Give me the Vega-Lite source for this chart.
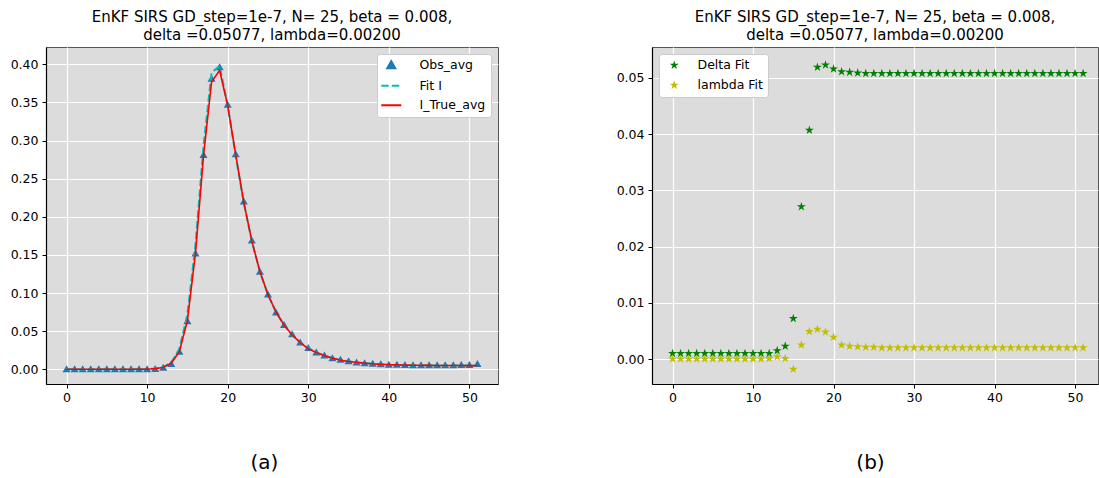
{
  "$schema": "https://vega.github.io/schema/vega-lite/v6.json",
  "padding": {"left": 9, "top": 9, "right": 0, "bottom": 0},
  "background": "white",
  "config": {
    "font": "DejaVu Sans",
    "view": {"fill": "#dcdcdc", "stroke": "#555555", "strokeWidth": 1},
    "axis": {
      "grid": true, "gridColor": "#ffffff", "gridWidth": 1.2,
      "domainColor": "#000000", "domainWidth": 1.2,
      "tickColor": "#000000", "tickSize": 4, "tickWidth": 1,
      "labelColor": "#000000", "labelFont": "DejaVu Sans", "labelFontSize": 12.5,
      "titleFont": "DejaVu Sans", "titleFontWeight": "normal", "titleColor": "#000000"
    },
    "axisX": {"labelPadding": 3},
    "axisY": {"labelPadding": 4},
    "title": {"font": "DejaVu Sans", "fontSize": 15, "fontWeight": "normal", "color": "#000000", "lineHeight": 17.5, "offset": 4.5},
    "concat": {"spacing": 116}
  },
  "datasets": {
    "left": [
      {"t": 0, "obs": 0.0, "fit": 0.0, "tru": 0.0},
      {"t": 1, "obs": 0.0, "fit": 0.0, "tru": 0.0},
      {"t": 2, "obs": 0.0, "fit": 0.0, "tru": 0.0},
      {"t": 3, "obs": 0.0, "fit": 0.0, "tru": 0.0},
      {"t": 4, "obs": 0.0, "fit": 0.0, "tru": 0.0},
      {"t": 5, "obs": 0.0, "fit": 0.0, "tru": 0.0},
      {"t": 6, "obs": 0.0, "fit": 0.0, "tru": 0.0},
      {"t": 7, "obs": 0.0, "fit": 0.0, "tru": 0.0},
      {"t": 8, "obs": 0.0, "fit": 0.0, "tru": 0.0},
      {"t": 9, "obs": 0.0, "fit": 0.0, "tru": 0.0},
      {"t": 10, "obs": 0.0, "fit": 0.0002, "tru": 0.0002},
      {"t": 11, "obs": 0.0005, "fit": 0.001, "tru": 0.0008},
      {"t": 12, "obs": 0.002, "fit": 0.003, "tru": 0.0025},
      {"t": 13, "obs": 0.007, "fit": 0.009, "tru": 0.008},
      {"t": 14, "obs": 0.023, "fit": 0.027, "tru": 0.023},
      {"t": 15, "obs": 0.063, "fit": 0.072, "tru": 0.064},
      {"t": 16, "obs": 0.152, "fit": 0.163, "tru": 0.152},
      {"t": 17, "obs": 0.281, "fit": 0.293, "tru": 0.28},
      {"t": 18, "obs": 0.381, "fit": 0.389, "tru": 0.377},
      {"t": 19, "obs": 0.396, "fit": 0.398, "tru": 0.392},
      {"t": 20, "obs": 0.347, "fit": 0.346, "tru": 0.346},
      {"t": 21, "obs": 0.282, "fit": 0.28, "tru": 0.281},
      {"t": 22, "obs": 0.22, "fit": 0.218, "tru": 0.219},
      {"t": 23, "obs": 0.169, "fit": 0.168, "tru": 0.168},
      {"t": 24, "obs": 0.128, "fit": 0.128, "tru": 0.128},
      {"t": 25, "obs": 0.098, "fit": 0.098, "tru": 0.098},
      {"t": 26, "obs": 0.0745, "fit": 0.075, "tru": 0.075},
      {"t": 27, "obs": 0.058, "fit": 0.058, "tru": 0.058},
      {"t": 28, "obs": 0.046, "fit": 0.045, "tru": 0.045},
      {"t": 29, "obs": 0.035, "fit": 0.035, "tru": 0.035},
      {"t": 30, "obs": 0.028, "fit": 0.028, "tru": 0.027},
      {"t": 31, "obs": 0.022, "fit": 0.022, "tru": 0.022},
      {"t": 32, "obs": 0.018, "fit": 0.018, "tru": 0.018},
      {"t": 33, "obs": 0.0145, "fit": 0.015, "tru": 0.0145},
      {"t": 34, "obs": 0.0125, "fit": 0.012, "tru": 0.012},
      {"t": 35, "obs": 0.0105, "fit": 0.0105, "tru": 0.0103},
      {"t": 36, "obs": 0.009, "fit": 0.009, "tru": 0.009},
      {"t": 37, "obs": 0.008, "fit": 0.008, "tru": 0.008},
      {"t": 38, "obs": 0.0072, "fit": 0.0072, "tru": 0.0071},
      {"t": 39, "obs": 0.0066, "fit": 0.0066, "tru": 0.0065},
      {"t": 40, "obs": 0.006, "fit": 0.006, "tru": 0.0061},
      {"t": 41, "obs": 0.0058, "fit": 0.0057, "tru": 0.0057},
      {"t": 42, "obs": 0.0055, "fit": 0.0055, "tru": 0.0055},
      {"t": 43, "obs": 0.0054, "fit": 0.0053, "tru": 0.0053},
      {"t": 44, "obs": 0.0053, "fit": 0.0052, "tru": 0.0052},
      {"t": 45, "obs": 0.0052, "fit": 0.0051, "tru": 0.0051},
      {"t": 46, "obs": 0.0052, "fit": 0.005, "tru": 0.005},
      {"t": 47, "obs": 0.0053, "fit": 0.005, "tru": 0.005},
      {"t": 48, "obs": 0.0054, "fit": 0.0049, "tru": 0.0049},
      {"t": 49, "obs": 0.0055, "fit": 0.0049, "tru": 0.0049},
      {"t": 50, "obs": 0.0057, "fit": 0.0048, "tru": 0.0048},
      {"t": 51, "obs": 0.0068, "fit": 0.0048, "tru": 0.0048}
    ],
    "right": [
      {"t": 0, "delta": 0.001, "lambda": 0.0},
      {"t": 1, "delta": 0.001, "lambda": 0.0},
      {"t": 2, "delta": 0.001, "lambda": 0.0},
      {"t": 3, "delta": 0.001, "lambda": 0.0},
      {"t": 4, "delta": 0.001, "lambda": 0.0},
      {"t": 5, "delta": 0.001, "lambda": 0.0},
      {"t": 6, "delta": 0.001, "lambda": 0.0},
      {"t": 7, "delta": 0.001, "lambda": 0.0},
      {"t": 8, "delta": 0.001, "lambda": 0.0},
      {"t": 9, "delta": 0.001, "lambda": 0.0},
      {"t": 10, "delta": 0.001, "lambda": 0.0},
      {"t": 11, "delta": 0.001, "lambda": 0.0},
      {"t": 12, "delta": 0.001, "lambda": 0.0001},
      {"t": 13, "delta": 0.0015, "lambda": 0.0004},
      {"t": 14, "delta": 0.0023, "lambda": 0.0001},
      {"t": 15, "delta": 0.0072, "lambda": -0.0018},
      {"t": 16, "delta": 0.0271, "lambda": 0.0025},
      {"t": 17, "delta": 0.0407, "lambda": 0.0049},
      {"t": 18, "delta": 0.0519, "lambda": 0.0053},
      {"t": 19, "delta": 0.0523, "lambda": 0.0048},
      {"t": 20, "delta": 0.0516, "lambda": 0.0039},
      {"t": 21, "delta": 0.0511, "lambda": 0.0025},
      {"t": 22, "delta": 0.051, "lambda": 0.0023},
      {"t": 23, "delta": 0.0509, "lambda": 0.0022},
      {"t": 24, "delta": 0.0508, "lambda": 0.0021},
      {"t": 25, "delta": 0.0508, "lambda": 0.0021},
      {"t": 26, "delta": 0.0508, "lambda": 0.002},
      {"t": 27, "delta": 0.0508, "lambda": 0.002},
      {"t": 28, "delta": 0.0508, "lambda": 0.002},
      {"t": 29, "delta": 0.0508, "lambda": 0.002},
      {"t": 30, "delta": 0.0508, "lambda": 0.002},
      {"t": 31, "delta": 0.0508, "lambda": 0.002},
      {"t": 32, "delta": 0.0508, "lambda": 0.002},
      {"t": 33, "delta": 0.0508, "lambda": 0.002},
      {"t": 34, "delta": 0.0508, "lambda": 0.002},
      {"t": 35, "delta": 0.0508, "lambda": 0.002},
      {"t": 36, "delta": 0.0508, "lambda": 0.002},
      {"t": 37, "delta": 0.0508, "lambda": 0.002},
      {"t": 38, "delta": 0.0508, "lambda": 0.002},
      {"t": 39, "delta": 0.0508, "lambda": 0.002},
      {"t": 40, "delta": 0.0508, "lambda": 0.002},
      {"t": 41, "delta": 0.0508, "lambda": 0.002},
      {"t": 42, "delta": 0.0508, "lambda": 0.002},
      {"t": 43, "delta": 0.0508, "lambda": 0.002},
      {"t": 44, "delta": 0.0508, "lambda": 0.002},
      {"t": 45, "delta": 0.0508, "lambda": 0.002},
      {"t": 46, "delta": 0.0508, "lambda": 0.002},
      {"t": 47, "delta": 0.0508, "lambda": 0.002},
      {"t": 48, "delta": 0.0508, "lambda": 0.002},
      {"t": 49, "delta": 0.0508, "lambda": 0.002},
      {"t": 50, "delta": 0.0508, "lambda": 0.002},
      {"t": 51, "delta": 0.0508, "lambda": 0.002}
    ]
  },
  "hconcat": [
    {
      "width": 452,
      "height": 337,
      "title": {"text": ["EnKF SIRS GD_step=1e-7, N= 25, beta = 0.008,", "delta =0.05077, lambda=0.00200"]},
      "data": {"name": "left"},
      "encoding": {
        "x": {"field": "t", "type": "quantitative",
              "scale": {"domain": [-2.55, 53.55], "nice": false, "zero": false},
              "axis": {"values": [0, 10, 20, 30, 40, 50], "title": "(a)", "titleFontSize": 20, "titleX": 218, "titleY": 78, "titleBaseline": "middle", "titleAlign": "center"}}
      },
      "layer": [
        {
          "mark": {"type": "point", "filled": true, "size": 100, "opacity": 1},
          "encoding": {
            "y": {"field": "obs", "type": "quantitative",
                  "scale": {"domain": [-0.0193, 0.4227], "nice": false, "zero": false},
                  "axis": {"values": [0, 0.05, 0.1, 0.15, 0.2, 0.25, 0.3, 0.35, 0.4], "format": ".2f", "title": null}},
            "shape": {"datum": "Obs_avg", "type": "nominal",
                      "scale": {"domain": ["Obs_avg", "Fit I", "I_True_avg"], "range": ["M0,-0.8L0.8,0.6L-0.8,0.6Z", "M-2,0L2,0", "M-2,0L2,0"]}},
            "color": {"datum": "Obs_avg", "type": "nominal",
                      "scale": {"domain": ["Obs_avg", "Fit I", "I_True_avg"], "range": ["#1f77b4", "#00bfbf", "#ff0000"]},
                      "legend": {
                        "title": null, "orient": "top-right", "offset": 7,
                        "fillColor": "#ffffff", "strokeColor": "#cccccc", "cornerRadius": 3, "padding": 5,
                        "labelFont": "DejaVu Sans", "labelFontSize": 12.5, "labelColor": "#000000",
                        "symbolSize": 100, "symbolOffset": 3, "rowPadding": 6.5, "labelOffset": 22,
                        "symbolStrokeWidth": 2, "symbolOpacity": 1
                      }}
          }
        },
        {
          "mark": {"type": "line", "strokeWidth": 2},
          "encoding": {
            "y": {"field": "fit", "type": "quantitative"},
            "color": {"datum": "Fit I", "type": "nominal"},
            "strokeDash": {"datum": "Fit I", "type": "nominal",
                           "scale": {"domain": ["Obs_avg", "Fit I", "I_True_avg"], "range": [[1, 0], [7.4, 3.2], [1, 0]]}}
          }
        },
        {
          "mark": {"type": "line", "strokeWidth": 1.6},
          "encoding": {
            "y": {"field": "tru", "type": "quantitative"},
            "color": {"datum": "I_True_avg", "type": "nominal"},
            "strokeDash": {"datum": "I_True_avg", "type": "nominal"}
          }
        }
      ]
    },
    {
      "width": 446,
      "height": 337,
      "title": {"text": ["EnKF SIRS GD_step=1e-7, N= 25, beta = 0.008,", "delta =0.05077, lambda=0.00200"]},
      "data": {"name": "right"},
      "encoding": {
        "x": {"field": "t", "type": "quantitative",
              "scale": {"domain": [-2.55, 52.85], "nice": false, "zero": false},
              "axis": {"values": [0, 10, 20, 30, 40, 50], "title": "(b)", "titleFontSize": 20, "titleX": 218, "titleY": 78, "titleBaseline": "middle", "titleAlign": "center"}}
      },
      "layer": [
        {
          "mark": {"type": "point", "shape": "M0,-1L0.223,-0.307L0.951,-0.309L0.361,0.117L0.588,0.809L0,0.38L-0.588,0.809L-0.361,0.117L-0.951,-0.309L-0.223,-0.307Z", "filled": true, "size": 90, "opacity": 1},
          "encoding": {
            "y": {"field": "delta", "type": "quantitative",
                  "scale": {"domain": [-0.00444, 0.0555], "nice": false, "zero": false},
                  "axis": {"values": [0, 0.01, 0.02, 0.03, 0.04, 0.05], "format": ".2f", "title": null}},
            "color": {"datum": "Delta Fit", "type": "nominal",
                      "scale": {"domain": ["Delta Fit", "lambda Fit"], "range": ["#008000", "#bfbf00"]},
                      "legend": {
                        "title": null, "orient": "top-left", "offset": 6.5,
                        "fillColor": "#ffffff", "strokeColor": "#cccccc", "cornerRadius": 3, "padding": 5,
                        "labelFont": "DejaVu Sans", "labelFontSize": 12.5, "labelColor": "#000000",
                        "symbolSize": 90, "symbolOffset": 4, "rowPadding": 7, "labelOffset": 17,
                        "symbolType": "M0,-1L0.223,-0.307L0.951,-0.309L0.361,0.117L0.588,0.809L0,0.38L-0.588,0.809L-0.361,0.117L-0.951,-0.309L-0.223,-0.307Z",
                        "symbolOpacity": 1
                      }}
          }
        },
        {
          "mark": {"type": "point", "shape": "M0,-1L0.223,-0.307L0.951,-0.309L0.361,0.117L0.588,0.809L0,0.38L-0.588,0.809L-0.361,0.117L-0.951,-0.309L-0.223,-0.307Z", "filled": true, "size": 90, "opacity": 1},
          "encoding": {
            "y": {"field": "lambda", "type": "quantitative"},
            "color": {"datum": "lambda Fit", "type": "nominal"}
          }
        }
      ]
    }
  ],
  "resolve": {"scale": {"color": "independent", "shape": "independent", "strokeDash": "independent"}}
}
